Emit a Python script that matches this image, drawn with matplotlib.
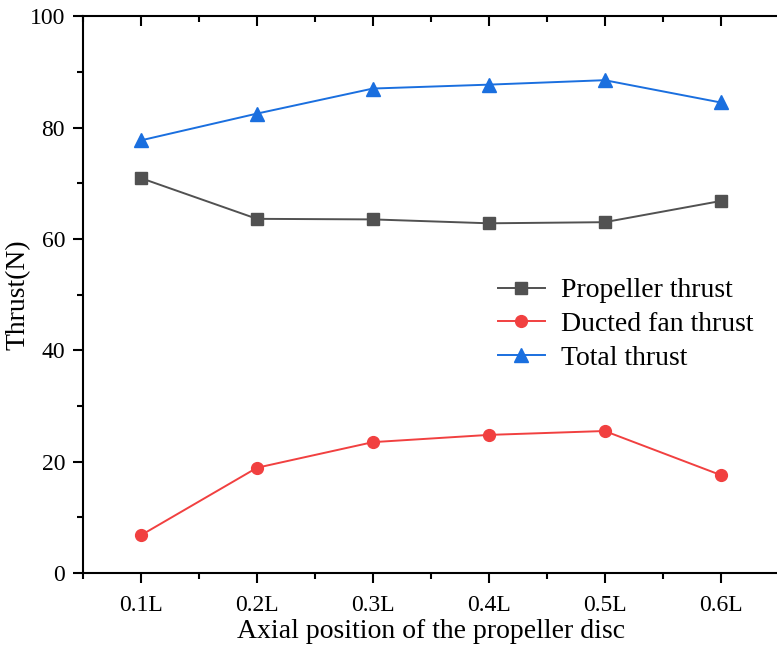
import matplotlib.pyplot as plt
from matplotlib.ticker import MultipleLocator

plt.rcParams['font.family'] = ['Liberation Serif', 'DejaVu Serif']

positions = ['0.1L', '0.2L', '0.3L', '0.4L', '0.5L', '0.6L']
propeller = [70.9, 63.6, 63.5, 62.8, 63.0, 66.8]
ducted = [6.8, 18.9, 23.5, 24.8, 25.5, 17.6]
total = [77.7, 82.5, 87.0, 87.7, 88.5, 84.5]

x = list(range(1, len(positions) + 1))

fig = plt.figure(figsize=(7.77, 6.46), dpi=100)
ax = fig.add_axes([0.107, 0.113, 0.895, 0.862])

ax.plot(x, propeller, color='#515151', marker='s', markersize=8, lw=1.4, label='Propeller thrust')
ax.plot(x, ducted, color='#F14040', marker='o', markersize=8.5, lw=1.4, label='Ducted fan thrust')
ax.plot(x, total, color='#1A6FDF', marker='^', markersize=10, lw=1.4, label='Total thrust')

ax.set_xlim(0.5, 6.5)
ax.set_ylim(0, 100)
ax.set_xticks(x)
ax.set_xticklabels(positions)
ax.xaxis.set_minor_locator(MultipleLocator(0.5))
ax.yaxis.set_major_locator(MultipleLocator(20))
ax.yaxis.set_minor_locator(MultipleLocator(10))

for s in ax.spines.values():
    s.set_linewidth(1.5)

ax.tick_params(axis='both', which='major', direction='out', length=7, width=1.5, labelsize=17)
ax.tick_params(axis='x', which='major', pad=9)
ax.tick_params(axis='y', which='major', pad=6)
ax.tick_params(axis='both', which='minor', direction='out', length=4, width=1.5)
ax.tick_params(axis='x', which='both', top=True)
ax.tick_params(axis='y', which='both', right=True)

# top and right ticks point inward
for t in ax.xaxis.get_major_ticks() + ax.xaxis.get_minor_ticks():
    t.tick2line.set_marker(3)
for t in ax.yaxis.get_major_ticks() + ax.yaxis.get_minor_ticks():
    t.tick2line.set_marker(1)

ax.set_xlabel('Axial position of the propeller disc', fontsize=20, labelpad=2)
ax.set_ylabel('Thrust(N)', fontsize=20)
ax.yaxis.set_label_coords(-0.076, 0.5)

ax.legend(loc='upper left', bbox_to_anchor=(0.58, 0.55), frameon=False, fontsize=20,
          handlelength=1.7, handletextpad=0.6, labelspacing=0.3, borderaxespad=0)

fig.savefig('out.png', dpi=100)
